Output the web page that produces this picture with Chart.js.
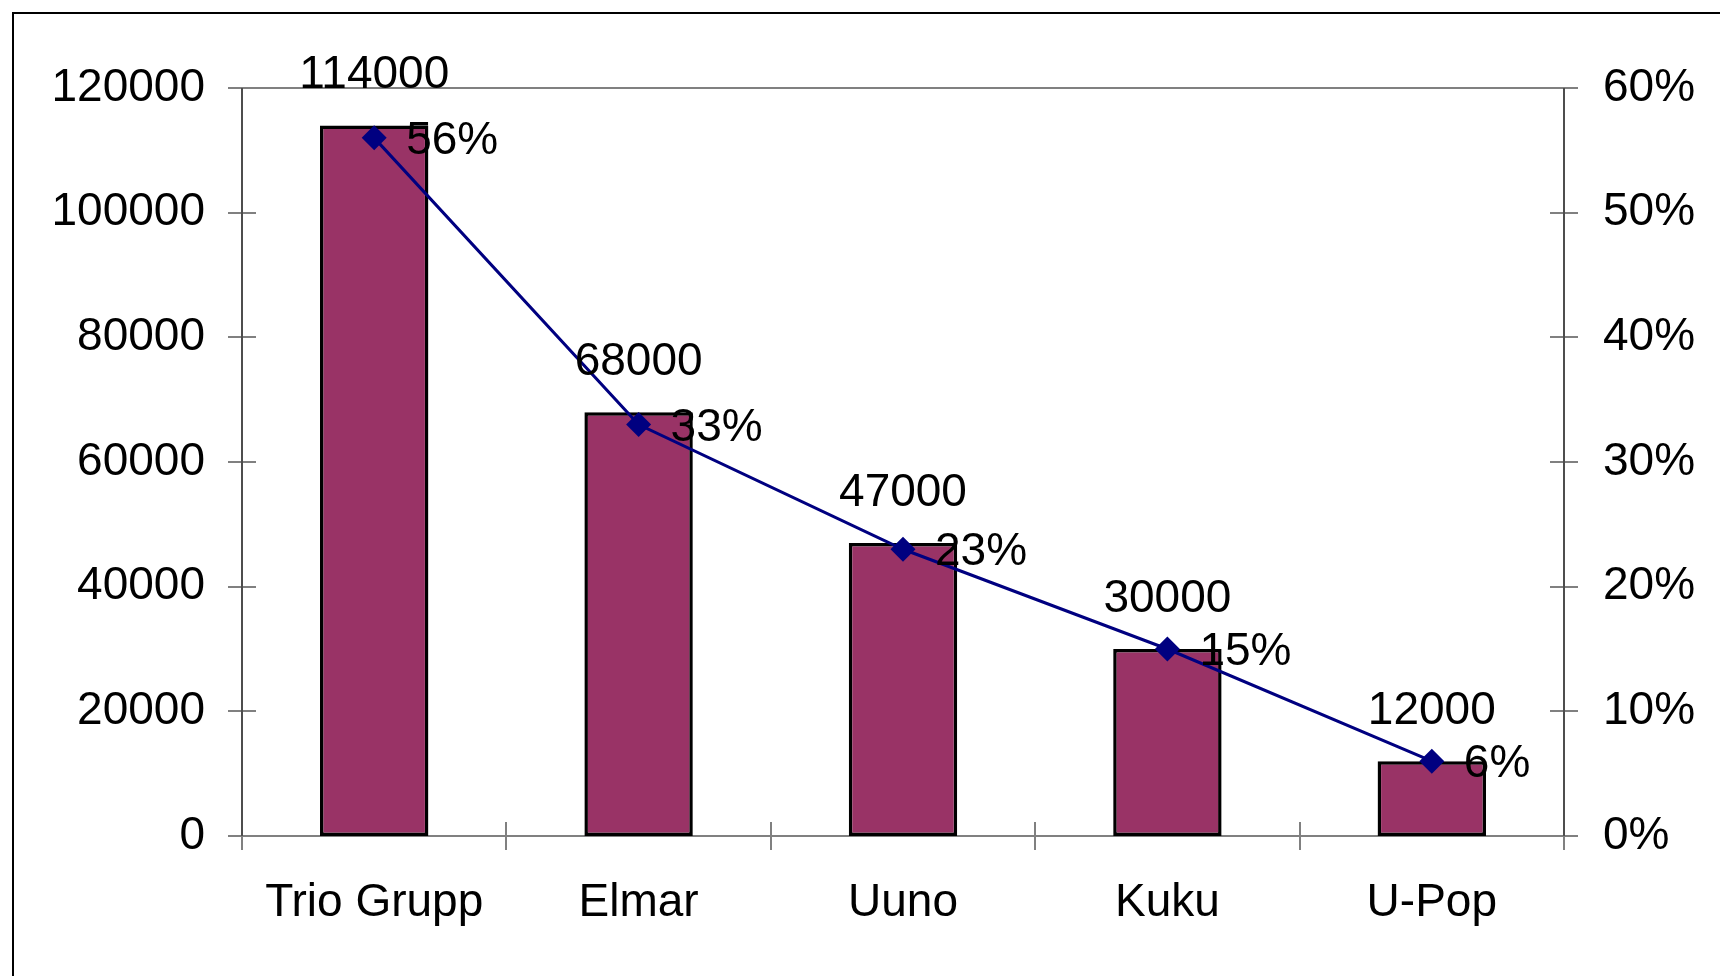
<!DOCTYPE html>
<html><head><meta charset="utf-8">
<script src="https://cdn.jsdelivr.net/npm/chart.js@4/dist/chart.umd.min.js"></script>
<style>html,body{margin:0;padding:0;background:#fff;overflow:hidden}#c{display:block}</style>
</head><body>
<canvas id="c" width="1720" height="976" style="width:1720px;height:976px"></canvas>
<script>
const categories = ['Trio Grupp', 'Elmar', 'Uuno', 'Kuku', 'U-Pop'];
const salesValues = [114000, 68000, 47000, 30000, 12000];
const shareValues = [0.56, 0.33, 0.23, 0.15, 0.06];
const shareLabels = ['56%', '33%', '23%', '15%', '6%'];
const leftTickValues = [0, 20000, 40000, 60000, 80000, 100000, 120000];
const rightTickValues = [0, 0.1, 0.2, 0.3, 0.4, 0.5, 0.6];

const FONT = '"Liberation Sans", Arial, Helvetica, sans-serif';
const FS = 46;

const framePlugin = {
  id: 'frame',
  beforeDraw(chart) {
    const ctx = chart.ctx;
    ctx.save();
    ctx.fillStyle = '#fff';
    ctx.fillRect(0, 0, chart.width, chart.height);
    ctx.strokeStyle = '#000';
    ctx.lineWidth = 2;
    ctx.strokeRect(13, 13, chart.width + 20, chart.height + 20);
    ctx.restore();
  },
  beforeDatasetsDraw(chart) {
    const ctx = chart.ctx;
    const a = chart.chartArea;
    const xs = chart.scales.x, ys = chart.scales.y, yr = chart.scales.y1;
    ctx.save();
    ctx.strokeStyle = '#808080';
    ctx.lineWidth = 2;
    ctx.beginPath();
    ctx.moveTo(a.left, a.top); ctx.lineTo(a.right, a.top);
    ctx.moveTo(a.left, a.bottom); ctx.lineTo(a.right, a.bottom);
    ctx.stroke();
    ctx.beginPath();
    leftTickValues.forEach(v => {
      const y = Math.round(ys.getPixelForValue(v));
      ctx.moveTo(a.left - 14, y); ctx.lineTo(a.left + 14, y);
    });
    rightTickValues.forEach(v => {
      const y = Math.round(yr.getPixelForValue(v));
      ctx.moveTo(a.right - 14, y); ctx.lineTo(a.right + 14, y);
    });
    for (let i = 0; i <= categories.length; i++) {
      const x = Math.round(xs.getPixelForValue(i - 0.5));
      ctx.moveTo(x, a.bottom - 14); ctx.lineTo(x, a.bottom + 14);
    }
    ctx.stroke();
    ctx.strokeStyle = '#4d4d4d';
    ctx.beginPath();
    ctx.moveTo(a.left, a.top); ctx.lineTo(a.left, a.bottom);
    ctx.moveTo(a.right, a.top); ctx.lineTo(a.right, a.bottom);
    ctx.stroke();
    ctx.restore();
  },
  afterDatasetsDraw(chart) {
    const ctx = chart.ctx;
    ctx.save();
    ctx.fillStyle = '#000';
    ctx.font = FS + 'px ' + FONT;
    const barMeta = chart.getDatasetMeta(0);
    barMeta.data.forEach((el, i) => {
      ctx.textAlign = 'center';
      ctx.textBaseline = 'alphabetic';
      ctx.fillText(String(salesValues[i]), el.x, el.y - 37);
    });
    const lineMeta = chart.getDatasetMeta(1);
    lineMeta.data.forEach((el, i) => {
      ctx.textAlign = 'left';
      ctx.textBaseline = 'alphabetic';
      ctx.fillText(shareLabels[i], el.x + 32, el.y + 16);
    });
    ctx.restore();
  }
};

new Chart(document.getElementById('c'), {
  data: {
    labels: categories,
    datasets: [
      {
        type: 'bar',
        data: salesValues,
        yAxisID: 'y',
        backgroundColor: '#993366',
        borderColor: '#000',
        borderWidth: 3.5,
        borderSkipped: false,
        categoryPercentage: 1,
        barPercentage: 0.41,
        order: 1
      },
      {
        type: 'line',
        data: shareValues,
        yAxisID: 'y1',
        borderColor: '#000080',
        borderWidth: 3,
        pointStyle: 'rectRot',
        pointRadius: 12.5,
        pointHoverRadius: 12.5,
        pointBackgroundColor: '#000080',
        pointBorderWidth: 0,
        tension: 0,
        order: 0
      }
    ]
  },
  options: {
    responsive: false,
    animation: false,
    devicePixelRatio: 1,
    layout: { padding: { top: 88, left: 0, right: 0, bottom: 0 } },
    plugins: { legend: { display: false }, tooltip: { enabled: false } },
    events: [],
    scales: {
      x: {
        type: 'category',
        offset: true,
        grid: { display: false, drawTicks: false },
        border: { display: false },
        ticks: { color: '#000', font: { family: FONT, size: FS }, padding: 40, maxRotation: 0, autoSkip: false },
        afterFit(s) { s.height = 140; }
      },
      y: {
        position: 'left',
        min: 0, max: 120000,
        grid: { display: false, drawTicks: false },
        border: { display: false },
        afterBuildTicks(s) { s.ticks = leftTickValues.map(v => ({ value: v })); },
        ticks: { color: '#000', font: { family: FONT, size: FS }, padding: 37, callback: v => String(v) },
        afterFit(s) { s.width = 242; }
      },
      y1: {
        position: 'right',
        min: 0, max: 0.6,
        grid: { display: false, drawTicks: false },
        border: { display: false },
        afterBuildTicks(s) { s.ticks = rightTickValues.map(v => ({ value: v })); },
        ticks: { color: '#000', font: { family: FONT, size: FS }, padding: 39, callback: v => Math.round(v * 100) + '%' },
        afterFit(s) { s.width = 156; }
      }
    }
  },
  plugins: [framePlugin]
});
</script>
</body></html>
